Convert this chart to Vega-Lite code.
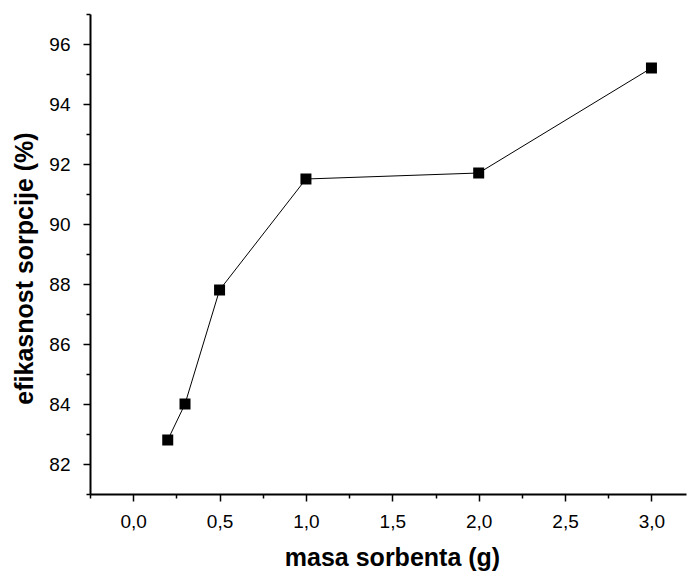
{
  "$schema": "https://vega.github.io/schema/vega-lite/v6.json",
  "autosize": "none",
  "width": 596,
  "height": 480,
  "padding": {"left": 90, "top": 14, "right": 3, "bottom": 77},
  "background": "white",
  "config": {"view": {"stroke": null}, "font": "Liberation Sans"},
  "data": {"values": [
    {"m": 0.2, "e": 82.8},
    {"m": 0.3, "e": 84.0},
    {"m": 0.5, "e": 87.8},
    {"m": 1.0, "e": 91.5},
    {"m": 2.0, "e": 91.7},
    {"m": 3.0, "e": 95.2}
  ]},
  "encoding": {
    "x": {"field": "m", "type": "quantitative",
      "scale": {"domain": [-0.25, 3.2], "nice": false, "zero": false},
      "axis": {
        "title": "masa sorbenta (g)",
        "titleFont": "Liberation Sans", "titleFontSize": 25, "titleFontWeight": "bold", "titleColor": "black",
        "titlePadding": 14,
        "titleX": 302,
        "values": [-0.25, 0, 0.25, 0.5, 0.75, 1, 1.25, 1.5, 1.75, 2, 2.25, 2.5, 2.75, 3],
        "labelExpr": "abs(datum.value*2 - round(datum.value*2)) < 0.001 ? replace(format(datum.value, '.1f'), '.', ',') : ''",
        "labelOverlap": false,
        "labelFont": "Liberation Sans", "labelFontSize": 19, "labelColor": "black",
        "labelPadding": 11,
        "tickSize": {"condition": {"test": "abs(datum.value*2 - round(datum.value*2)) < 0.001", "value": 7}, "value": 4},
        "tickColor": "black", "tickWidth": 1.5,
        "domainColor": "black", "domainWidth": 2,
        "grid": false
      }
    },
    "y": {"field": "e", "type": "quantitative",
      "scale": {"domain": [81, 97], "nice": false, "zero": false},
      "axis": {
        "title": "efikasnost sorpcije (%)",
        "titleFont": "Liberation Sans", "titleFontSize": 25, "titleFontWeight": "bold", "titleColor": "black",
        "titlePadding": 11,
        "titleY": 254,
        "values": [81, 82, 83, 84, 85, 86, 87, 88, 89, 90, 91, 92, 93, 94, 95, 96, 97],
        "labelExpr": "datum.value % 2 === 0 ? format(datum.value, 'd') : ''",
        "labelOverlap": false,
        "labelFont": "Liberation Sans", "labelFontSize": 19, "labelColor": "black",
        "labelPadding": 13,
        "tickSize": {"condition": {"test": "datum.value % 2 === 0", "value": 7}, "value": 4},
        "tickColor": "black", "tickWidth": 1.5,
        "domainColor": "black", "domainWidth": 2,
        "grid": false
      }
    }
  },
  "layer": [
    {"mark": {"type": "line", "color": "black", "strokeWidth": 1}},
    {"mark": {"type": "square", "color": "black", "filled": true, "opacity": 1, "size": 121}}
  ]
}
